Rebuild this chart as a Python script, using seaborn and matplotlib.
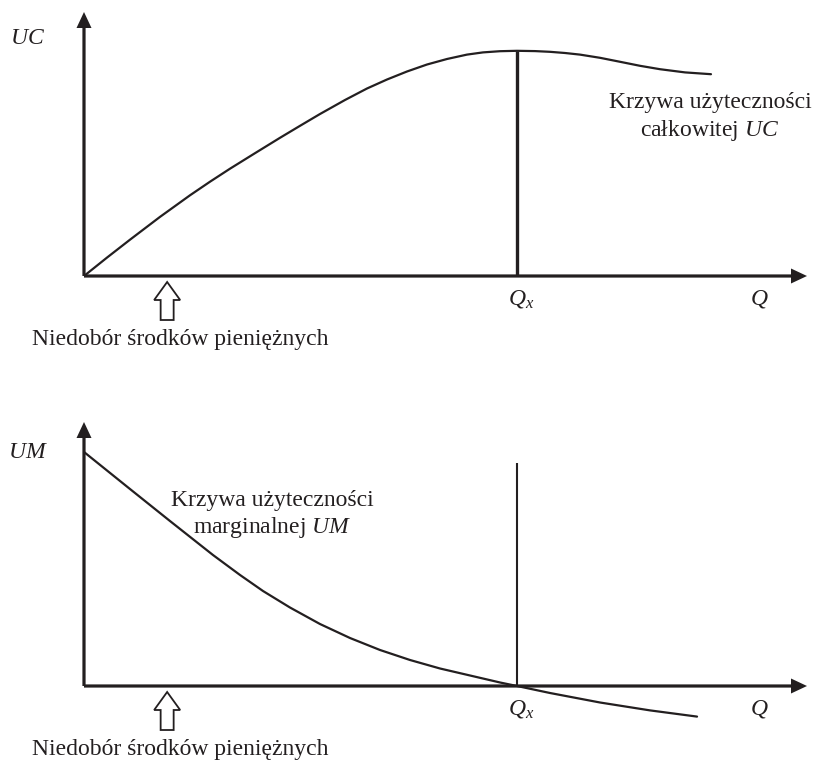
import numpy as np
import matplotlib
matplotlib.use('Agg')
import matplotlib.pyplot as plt
import seaborn as sns

# Total utility curve UC (top panel), axes scaled 0-100
q_uc = [0, 3.18, 6.36, 10.51, 14.66, 17.43, 20.19, 23.65, 27.11, 29.88, 32.64,
        36.10, 39.14, 41.91, 44.67, 47.44, 50.21, 52.97, 55.19, 57.54, 59.89,
        62.38, 64.45, 66.53, 68.60, 71.37, 74.14, 76.90, 79.67, 83.13, 86.72]
uc = [0, 6.97, 13.75, 22.39, 30.57, 35.72, 40.64, 46.52, 52.35, 56.89, 61.36,
      66.67, 71.02, 74.43, 77.46, 80.11, 82.20, 83.86, 84.70, 85.15, 85.30,
      85.19, 84.92, 84.47, 83.86, 82.65, 81.14, 79.62, 78.33, 77.12, 76.44]

# Marginal utility curve UM (bottom panel)
q_um = [0, 3.18, 6.36, 11.89, 17.84, 21.58, 24.76, 28.49, 32.64, 36.79, 40.94,
        45.09, 49.24, 53.39, 57.54, 59.89, 64.45, 71.37, 78.29, 84.79]
um = [88.64, 81.63, 74.62, 62.50, 49.62, 42.05, 35.98, 29.73, 23.48, 18.18, 13.64,
      9.85, 6.63, 3.98, 1.33, 0, -2.65, -6.25, -9.24, -11.59]

# Satiation point Q_x and the "money shortage" marker
q_x = 59.89
uc_max = 85.3
um_line_top = 84.5
q_shortage = 11.5

ink = '#231f20'

sns.set_theme(style='white')
plt.rcParams['font.family'] = ['Liberation Serif', 'DejaVu Serif']
plt.rcParams['mathtext.fontset'] = 'custom'
plt.rcParams['mathtext.rm'] = 'Liberation Serif'
plt.rcParams['mathtext.it'] = 'Liberation Serif:italic'
fs = 17

fig = plt.figure(figsize=(8.15, 7.63), dpi=100)
ax_top = fig.add_axes([84 / 815, 487 / 763, 723 / 815, 264 / 763])
ax_bot = fig.add_axes([84 / 815, 77 / 763, 723 / 815, 264 / 763])

# px per data unit: x 7.23, y 2.64
xu, yu = 7.23, 2.64


def draw_axes(ax, ylabel, ylabel_y):
    ax.set_xlim(0, 100)
    ax.set_ylim(0, 100)
    ax.axis('off')
    # axis arrows
    ax.arrow(0, 0, 100, 0, width=3.2 / yu, head_width=15 / yu, head_length=16 / xu,
             length_includes_head=True, fc=ink, ec='none', clip_on=False, zorder=3)
    ax.arrow(0, 0, 0, 100, width=3.2 / xu, head_width=15 / xu, head_length=16 / yu,
             length_includes_head=True, fc=ink, ec='none', clip_on=False, zorder=3)
    # hollow arrow for the money shortage
    ax.arrow(q_shortage, -44 / yu, 0, 38 / yu, width=13 / xu, head_width=26 / xu,
             head_length=18 / yu, length_includes_head=True, fc='white', ec=ink,
             lw=1.3, clip_on=False)
    ax.text(q_shortage + 1.8, -64 / yu, 'Niedobór środków pieniężnych', fontsize=fs,
            ha='center', va='center', color=ink)
    ax.text(-7.8, ylabel_y, ylabel, fontsize=fs, ha='center', va='center', color=ink)
    ax.text(q_x + 0.6, -8.7, r'$Q_x$', fontsize=fs, ha='center', va='center', color=ink)
    ax.text(93.4, -8.7, r'$Q$', fontsize=fs, ha='center', va='center', color=ink)


# top panel: total utility
draw_axes(ax_top, r'$UC$', 90)
sns.lineplot(x=q_uc, y=uc, ax=ax_top, color=ink, lw=1.6, sort=False)
ax_top.plot([q_x, q_x], [0, uc_max], color=ink, lw=2.4, solid_capstyle='butt')
ax_top.text(86.6, 60, 'Krzywa użyteczności\ncałkowitej $UC$', fontsize=fs,
            ha='center', va='center', color=ink, linespacing=1.25)

# bottom panel: marginal utility
draw_axes(ax_bot, r'$UM$', 88.6)
sns.lineplot(x=q_um, y=um, ax=ax_bot, color=ink, lw=1.6, sort=False)
ax_bot.lines[-1].set_clip_on(False)
ax_bot.plot([q_x, q_x], [0, um_line_top], color=ink, lw=1.5, solid_capstyle='butt')
ax_bot.text(26.1, 64.8, 'Krzywa użyteczności\nmarginalnej $UM$', fontsize=fs,
            ha='center', va='center', color=ink, linespacing=1.25)

for ax in (ax_top, ax_bot):
    for ln in ax.lines:
        ln.set_solid_joinstyle('round')

fig.savefig('out.png', dpi=100, facecolor='white')
